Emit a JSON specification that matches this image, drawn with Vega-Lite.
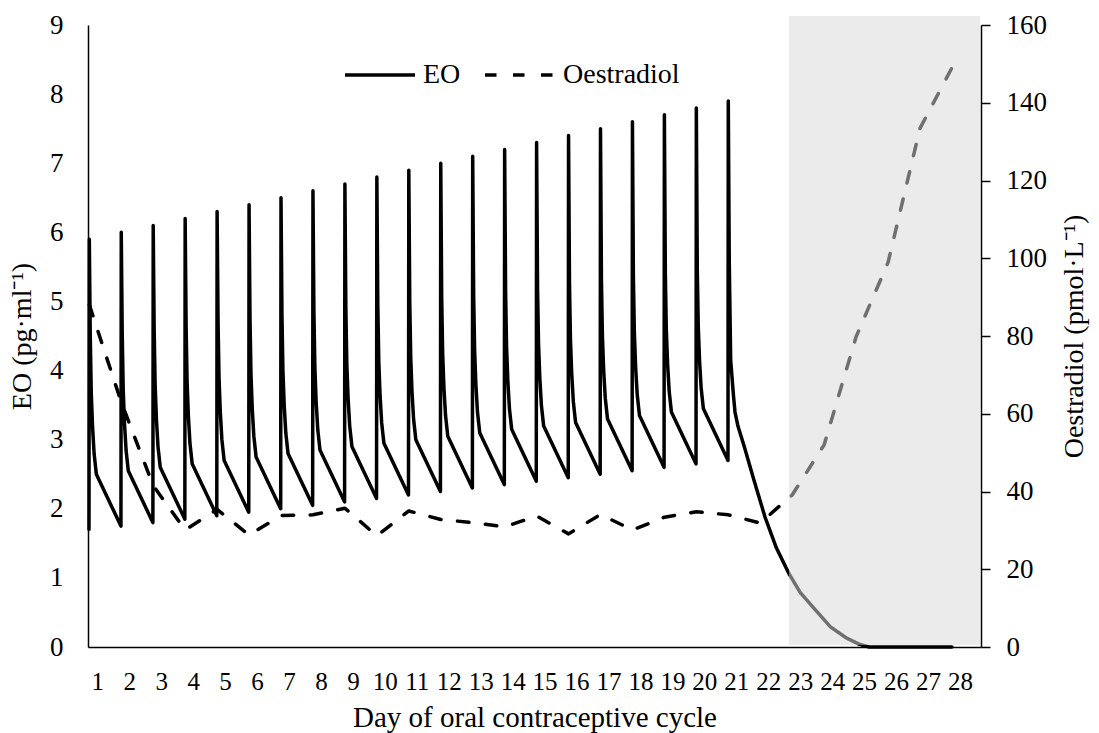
{
  "$schema": "https://vega.github.io/schema/vega-lite/v6.json",
  "width": 893,
  "height": 622,
  "autosize": {"type": "none"},
  "padding": {"left": 88, "top": 25, "right": 118, "bottom": 86},
  "background": "white",
  "config": {
    "view": {"stroke": null},
    "font": "Liberation Serif",
    "axis": {"labelFont": "Liberation Serif", "titleFont": "Liberation Serif", "labelColor": "black", "titleColor": "black", "domainColor": "black", "tickColor": "black", "grid": false, "titleFontWeight": "normal", "zindex": 1, "domainWidth": 1.5, "labelOverlap": false},
    "axisX": {"labelOverlap": false, "labelFlush": false},
    "legend": {"orient": "none", "legendX": 255, "legendY": 13, "direction": "horizontal", "symbolType": "stroke", "symbolSize": 4900, "symbolStrokeWidth": 3.5, "symbolStrokeColor": "black", "labelFont": "Liberation Serif", "labelFontSize": 28, "labelColor": "black", "labelOffset": 6, "columnPadding": 17, "padding": 0}
  },
  "datasets": {
    "shade": [{"start": 22.9, "end": 28.88, "low": 0.5, "high": 162.3}],
    "eo": [
      {"day":0.99,"eo":1.7,"series":"EO"},{"day":1,"eo":5.9,"series":"EO"},{"day":1.03,"eo":4.5,"series":"EO"},{"day":1.06,"eo":3.7,"series":"EO"},{"day":1.1,"eo":3.2,"series":"EO"},{"day":1.15,"eo":2.8,"series":"EO"},{"day":1.22,"eo":2.5,"series":"EO"},{"day":1.99,"eo":1.75,"series":"EO"},
      {"day":2,"eo":6.0,"series":"EO"},{"day":2.03,"eo":4.55,"series":"EO"},{"day":2.06,"eo":3.75,"series":"EO"},{"day":2.1,"eo":3.25,"series":"EO"},{"day":2.15,"eo":2.85,"series":"EO"},{"day":2.22,"eo":2.55,"series":"EO"},{"day":2.99,"eo":1.8,"series":"EO"},
      {"day":3,"eo":6.1,"series":"EO"},{"day":3.03,"eo":4.6,"series":"EO"},{"day":3.06,"eo":3.8,"series":"EO"},{"day":3.1,"eo":3.3,"series":"EO"},{"day":3.15,"eo":2.9,"series":"EO"},{"day":3.22,"eo":2.6,"series":"EO"},{"day":3.99,"eo":1.85,"series":"EO"},
      {"day":4,"eo":6.2,"series":"EO"},{"day":4.03,"eo":4.65,"series":"EO"},{"day":4.06,"eo":3.85,"series":"EO"},{"day":4.1,"eo":3.35,"series":"EO"},{"day":4.15,"eo":2.95,"series":"EO"},{"day":4.22,"eo":2.65,"series":"EO"},{"day":4.99,"eo":1.9,"series":"EO"},
      {"day":5,"eo":6.3,"series":"EO"},{"day":5.03,"eo":4.7,"series":"EO"},{"day":5.06,"eo":3.9,"series":"EO"},{"day":5.1,"eo":3.4,"series":"EO"},{"day":5.15,"eo":3.0,"series":"EO"},{"day":5.22,"eo":2.7,"series":"EO"},{"day":5.99,"eo":1.95,"series":"EO"},
      {"day":6,"eo":6.4,"series":"EO"},{"day":6.03,"eo":4.75,"series":"EO"},{"day":6.06,"eo":3.95,"series":"EO"},{"day":6.1,"eo":3.45,"series":"EO"},{"day":6.15,"eo":3.05,"series":"EO"},{"day":6.22,"eo":2.75,"series":"EO"},{"day":6.99,"eo":2.0,"series":"EO"},
      {"day":7,"eo":6.5,"series":"EO"},{"day":7.03,"eo":4.8,"series":"EO"},{"day":7.06,"eo":4.0,"series":"EO"},{"day":7.1,"eo":3.5,"series":"EO"},{"day":7.15,"eo":3.1,"series":"EO"},{"day":7.22,"eo":2.8,"series":"EO"},{"day":7.99,"eo":2.05,"series":"EO"},
      {"day":8,"eo":6.6,"series":"EO"},{"day":8.03,"eo":4.85,"series":"EO"},{"day":8.06,"eo":4.05,"series":"EO"},{"day":8.1,"eo":3.55,"series":"EO"},{"day":8.15,"eo":3.15,"series":"EO"},{"day":8.22,"eo":2.85,"series":"EO"},{"day":8.99,"eo":2.1,"series":"EO"},
      {"day":9,"eo":6.7,"series":"EO"},{"day":9.03,"eo":4.9,"series":"EO"},{"day":9.06,"eo":4.1,"series":"EO"},{"day":9.1,"eo":3.6,"series":"EO"},{"day":9.15,"eo":3.2,"series":"EO"},{"day":9.22,"eo":2.9,"series":"EO"},{"day":9.99,"eo":2.15,"series":"EO"},
      {"day":10,"eo":6.8,"series":"EO"},{"day":10.03,"eo":4.95,"series":"EO"},{"day":10.06,"eo":4.15,"series":"EO"},{"day":10.1,"eo":3.65,"series":"EO"},{"day":10.15,"eo":3.25,"series":"EO"},{"day":10.22,"eo":2.95,"series":"EO"},{"day":10.99,"eo":2.2,"series":"EO"},
      {"day":11,"eo":6.9,"series":"EO"},{"day":11.03,"eo":5.0,"series":"EO"},{"day":11.06,"eo":4.2,"series":"EO"},{"day":11.1,"eo":3.7,"series":"EO"},{"day":11.15,"eo":3.3,"series":"EO"},{"day":11.22,"eo":3.0,"series":"EO"},{"day":11.99,"eo":2.25,"series":"EO"},
      {"day":12,"eo":7.0,"series":"EO"},{"day":12.03,"eo":5.05,"series":"EO"},{"day":12.06,"eo":4.25,"series":"EO"},{"day":12.1,"eo":3.75,"series":"EO"},{"day":12.15,"eo":3.35,"series":"EO"},{"day":12.22,"eo":3.05,"series":"EO"},{"day":12.99,"eo":2.3,"series":"EO"},
      {"day":13,"eo":7.1,"series":"EO"},{"day":13.03,"eo":5.1,"series":"EO"},{"day":13.06,"eo":4.3,"series":"EO"},{"day":13.1,"eo":3.8,"series":"EO"},{"day":13.15,"eo":3.4,"series":"EO"},{"day":13.22,"eo":3.1,"series":"EO"},{"day":13.99,"eo":2.35,"series":"EO"},
      {"day":14,"eo":7.2,"series":"EO"},{"day":14.03,"eo":5.15,"series":"EO"},{"day":14.06,"eo":4.35,"series":"EO"},{"day":14.1,"eo":3.85,"series":"EO"},{"day":14.15,"eo":3.45,"series":"EO"},{"day":14.22,"eo":3.15,"series":"EO"},{"day":14.99,"eo":2.4,"series":"EO"},
      {"day":15,"eo":7.3,"series":"EO"},{"day":15.03,"eo":5.2,"series":"EO"},{"day":15.06,"eo":4.4,"series":"EO"},{"day":15.1,"eo":3.9,"series":"EO"},{"day":15.15,"eo":3.5,"series":"EO"},{"day":15.22,"eo":3.2,"series":"EO"},{"day":15.99,"eo":2.45,"series":"EO"},
      {"day":16,"eo":7.4,"series":"EO"},{"day":16.03,"eo":5.25,"series":"EO"},{"day":16.06,"eo":4.45,"series":"EO"},{"day":16.1,"eo":3.95,"series":"EO"},{"day":16.15,"eo":3.55,"series":"EO"},{"day":16.22,"eo":3.25,"series":"EO"},{"day":16.99,"eo":2.5,"series":"EO"},
      {"day":17,"eo":7.5,"series":"EO"},{"day":17.03,"eo":5.3,"series":"EO"},{"day":17.06,"eo":4.5,"series":"EO"},{"day":17.1,"eo":4.0,"series":"EO"},{"day":17.15,"eo":3.6,"series":"EO"},{"day":17.22,"eo":3.3,"series":"EO"},{"day":17.99,"eo":2.55,"series":"EO"},
      {"day":18,"eo":7.6,"series":"EO"},{"day":18.03,"eo":5.35,"series":"EO"},{"day":18.06,"eo":4.55,"series":"EO"},{"day":18.1,"eo":4.05,"series":"EO"},{"day":18.15,"eo":3.65,"series":"EO"},{"day":18.22,"eo":3.35,"series":"EO"},{"day":18.99,"eo":2.6,"series":"EO"},
      {"day":19,"eo":7.7,"series":"EO"},{"day":19.03,"eo":5.4,"series":"EO"},{"day":19.06,"eo":4.6,"series":"EO"},{"day":19.1,"eo":4.1,"series":"EO"},{"day":19.15,"eo":3.7,"series":"EO"},{"day":19.22,"eo":3.4,"series":"EO"},{"day":19.99,"eo":2.65,"series":"EO"},
      {"day":20,"eo":7.8,"series":"EO"},{"day":20.03,"eo":5.45,"series":"EO"},{"day":20.06,"eo":4.65,"series":"EO"},{"day":20.1,"eo":4.15,"series":"EO"},{"day":20.15,"eo":3.75,"series":"EO"},{"day":20.22,"eo":3.45,"series":"EO"},{"day":20.99,"eo":2.7,"series":"EO"},
      {"day":21,"eo":7.9,"series":"EO"},{"day":21.03,"eo":5.6,"series":"EO"},{"day":21.075,"eo":4.15,"series":"EO"},{"day":21.16,"eo":3.65,"series":"EO"},{"day":21.21,"eo":3.4,"series":"EO"},{"day":21.3,"eo":3.2,"series":"EO"},{"day":21.5,"eo":2.9,"series":"EO"},{"day":21.8,"eo":2.42,"series":"EO"},{"day":22.15,"eo":1.88,"series":"EO"},{"day":22.5,"eo":1.44,"series":"EO"},{"day":22.9,"eo":1.06,"series":"EO"},{"day":23.25,"eo":0.79,"series":"EO"},{"day":23.7,"eo":0.55,"series":"EO"},{"day":24.2,"eo":0.29,"series":"EO"},{"day":24.7,"eo":0.13,"series":"EO"},{"day":25.1,"eo":0.04,"series":"EO"},{"day":25.4,"eo":0,"series":"EO"},{"day":28,"eo":0,"series":"EO"}
    ],
    "oest": [
      {"day":1,"oest":88,"series":"Oestradiol"},{"day":2,"oest":63,"series":"Oestradiol"},{"day":3,"oest":41.5,"series":"Oestradiol"},{"day":4,"oest":30.1,"series":"Oestradiol"},{"day":5,"oest":35.4,"series":"Oestradiol"},{"day":6,"oest":28.8,"series":"Oestradiol"},{"day":7,"oest":33.8,"series":"Oestradiol"},{"day":8,"oest":34.0,"series":"Oestradiol"},{"day":9,"oest":35.7,"series":"Oestradiol"},{"day":10,"oest":28.6,"series":"Oestradiol"},{"day":11,"oest":35.0,"series":"Oestradiol"},{"day":12,"oest":32.8,"series":"Oestradiol"},{"day":13,"oest":32.0,"series":"Oestradiol"},{"day":14,"oest":30.9,"series":"Oestradiol"},{"day":15,"oest":33.7,"series":"Oestradiol"},{"day":16,"oest":29.1,"series":"Oestradiol"},{"day":17,"oest":34.1,"series":"Oestradiol"},{"day":18,"oest":30.1,"series":"Oestradiol"},{"day":19,"oest":33.4,"series":"Oestradiol"},{"day":20,"oest":34.8,"series":"Oestradiol"},{"day":21,"oest":34.0,"series":"Oestradiol"},{"day":22,"oest":31.9,"series":"Oestradiol"},{"day":23,"oest":39.1,"series":"Oestradiol"},{"day":24,"oest":52.0,"series":"Oestradiol"},{"day":25,"oest":79.8,"series":"Oestradiol"},{"day":26,"oest":98.9,"series":"Oestradiol"},{"day":27,"oest":133.4,"series":"Oestradiol"},{"day":28,"oest":149,"series":"Oestradiol"}
    ]
  },
  "layer": [
    {
      "data": {"name": "shade"},
      "mark": {"type": "rect", "fill": "#ebebeb"},
      "encoding": {
        "x": {"field": "start", "type": "quantitative", "title": "Day of oral contraceptive cycle", "scale": {"domain": [0.959, 28.91], "nice": false, "zero": false}, "axis": {"orient": "bottom", "values": [1,2,3,4,5,6,7,8,9,10,11,12,13,14,15,16,17,18,19,20,21,22,23,24,25,26,27,28], "format": "d", "ticks": false, "tickSize": 0, "labelPadding": 22, "labelOffset": 8, "labelFontSize": 25, "labelOverlap": false, "labelFlush": false, "labelBound": false, "titleFontSize": 29, "titlePadding": 9}},
        "x2": {"field": "end"},
        "y": {"field": "low", "type": "quantitative", "scale": {"domain": [0, 160], "nice": false, "zero": true}, "axis": null},
        "y2": {"field": "high"}
      }
    },
    {
      "data": {"name": "eo"},
      "mark": {"type": "line", "color": "black", "strokeWidth": 3.5, "strokeJoin": "round", "strokeCap": "round"},
      "encoding": {
        "x": {"field": "day", "type": "quantitative", "title": "Day of oral contraceptive cycle", "scale": {"domain": [0.959, 28.91], "nice": false, "zero": false}, "axis": {"orient": "bottom", "values": [1,2,3,4,5,6,7,8,9,10,11,12,13,14,15,16,17,18,19,20,21,22,23,24,25,26,27,28], "format": "d", "ticks": false, "tickSize": 0, "labelPadding": 22, "labelOffset": 8, "labelFontSize": 25, "labelOverlap": false, "labelFlush": false, "labelBound": false, "titleFontSize": 29, "titlePadding": 9}},
        "y": {"field": "eo", "type": "quantitative", "title": "EO (pg·ml⁻¹)", "scale": {"domain": [0, 9], "nice": false}, "axis": {"orient": "left", "values": [0,1,2,3,4,5,6,7,8,9], "ticks": false, "tickSize": 0, "labelPadding": 25, "labelFontSize": 27, "titleFontSize": 28, "titlePadding": 13}},
        "strokeDash": {"field": "series", "type": "nominal", "scale": {"domain": ["EO", "Oestradiol"], "range": [[1, 0], [11.5, 16.5]]}, "legend": {"title": null}}
      }
    },
    {
      "data": {"name": "oest"},
      "mark": {"type": "line", "color": "black", "strokeWidth": 3.5, "strokeJoin": "round", "strokeCap": "round"},
      "encoding": {
        "x": {"field": "day", "type": "quantitative", "title": "Day of oral contraceptive cycle", "scale": {"domain": [0.959, 28.91], "nice": false, "zero": false}, "axis": {"orient": "bottom", "values": [1,2,3,4,5,6,7,8,9,10,11,12,13,14,15,16,17,18,19,20,21,22,23,24,25,26,27,28], "format": "d", "ticks": false, "tickSize": 0, "labelPadding": 22, "labelOffset": 8, "labelFontSize": 25, "labelOverlap": false, "labelFlush": false, "labelBound": false, "titleFontSize": 29, "titlePadding": 9}},
        "y": {"field": "oest", "type": "quantitative", "title": "Oestradiol (pmol·L⁻¹)", "scale": {"domain": [0, 160], "nice": false}, "axis": {"orient": "right", "values": [0,20,40,60,80,100,120,140,160], "tickSize": 9, "tickWidth": 1.5, "labelPadding": 16, "labelFontSize": 27, "titleFontSize": 28, "titlePadding": 14, "titleAngle": 270, "titleBaseline": "top"}},
        "strokeDash": {"field": "series", "type": "nominal", "scale": {"domain": ["EO", "Oestradiol"], "range": [[1, 0], [11.5, 16.5]]}, "legend": {"title": null}}
      }
    },
    {
      "data": {"name": "shade"},
      "mark": {"type": "rect", "fill": "#ebebeb", "opacity": 0.48},
      "encoding": {
        "x": {"field": "start", "type": "quantitative", "title": "Day of oral contraceptive cycle", "scale": {"domain": [0.959, 28.91], "nice": false, "zero": false}, "axis": {"orient": "bottom", "values": [1,2,3,4,5,6,7,8,9,10,11,12,13,14,15,16,17,18,19,20,21,22,23,24,25,26,27,28], "format": "d", "ticks": false, "tickSize": 0, "labelPadding": 22, "labelOffset": 8, "labelFontSize": 25, "labelOverlap": false, "labelFlush": false, "labelBound": false, "titleFontSize": 29, "titlePadding": 9}},
        "x2": {"field": "end"},
        "y": {"field": "low", "type": "quantitative", "scale": {"domain": [0, 160], "nice": false, "zero": true}, "axis": null},
        "y2": {"field": "high"}
      }
    }
  ],
  "resolve": {"scale": {"y": "independent"}, "axis": {"y": "independent"}}
}
